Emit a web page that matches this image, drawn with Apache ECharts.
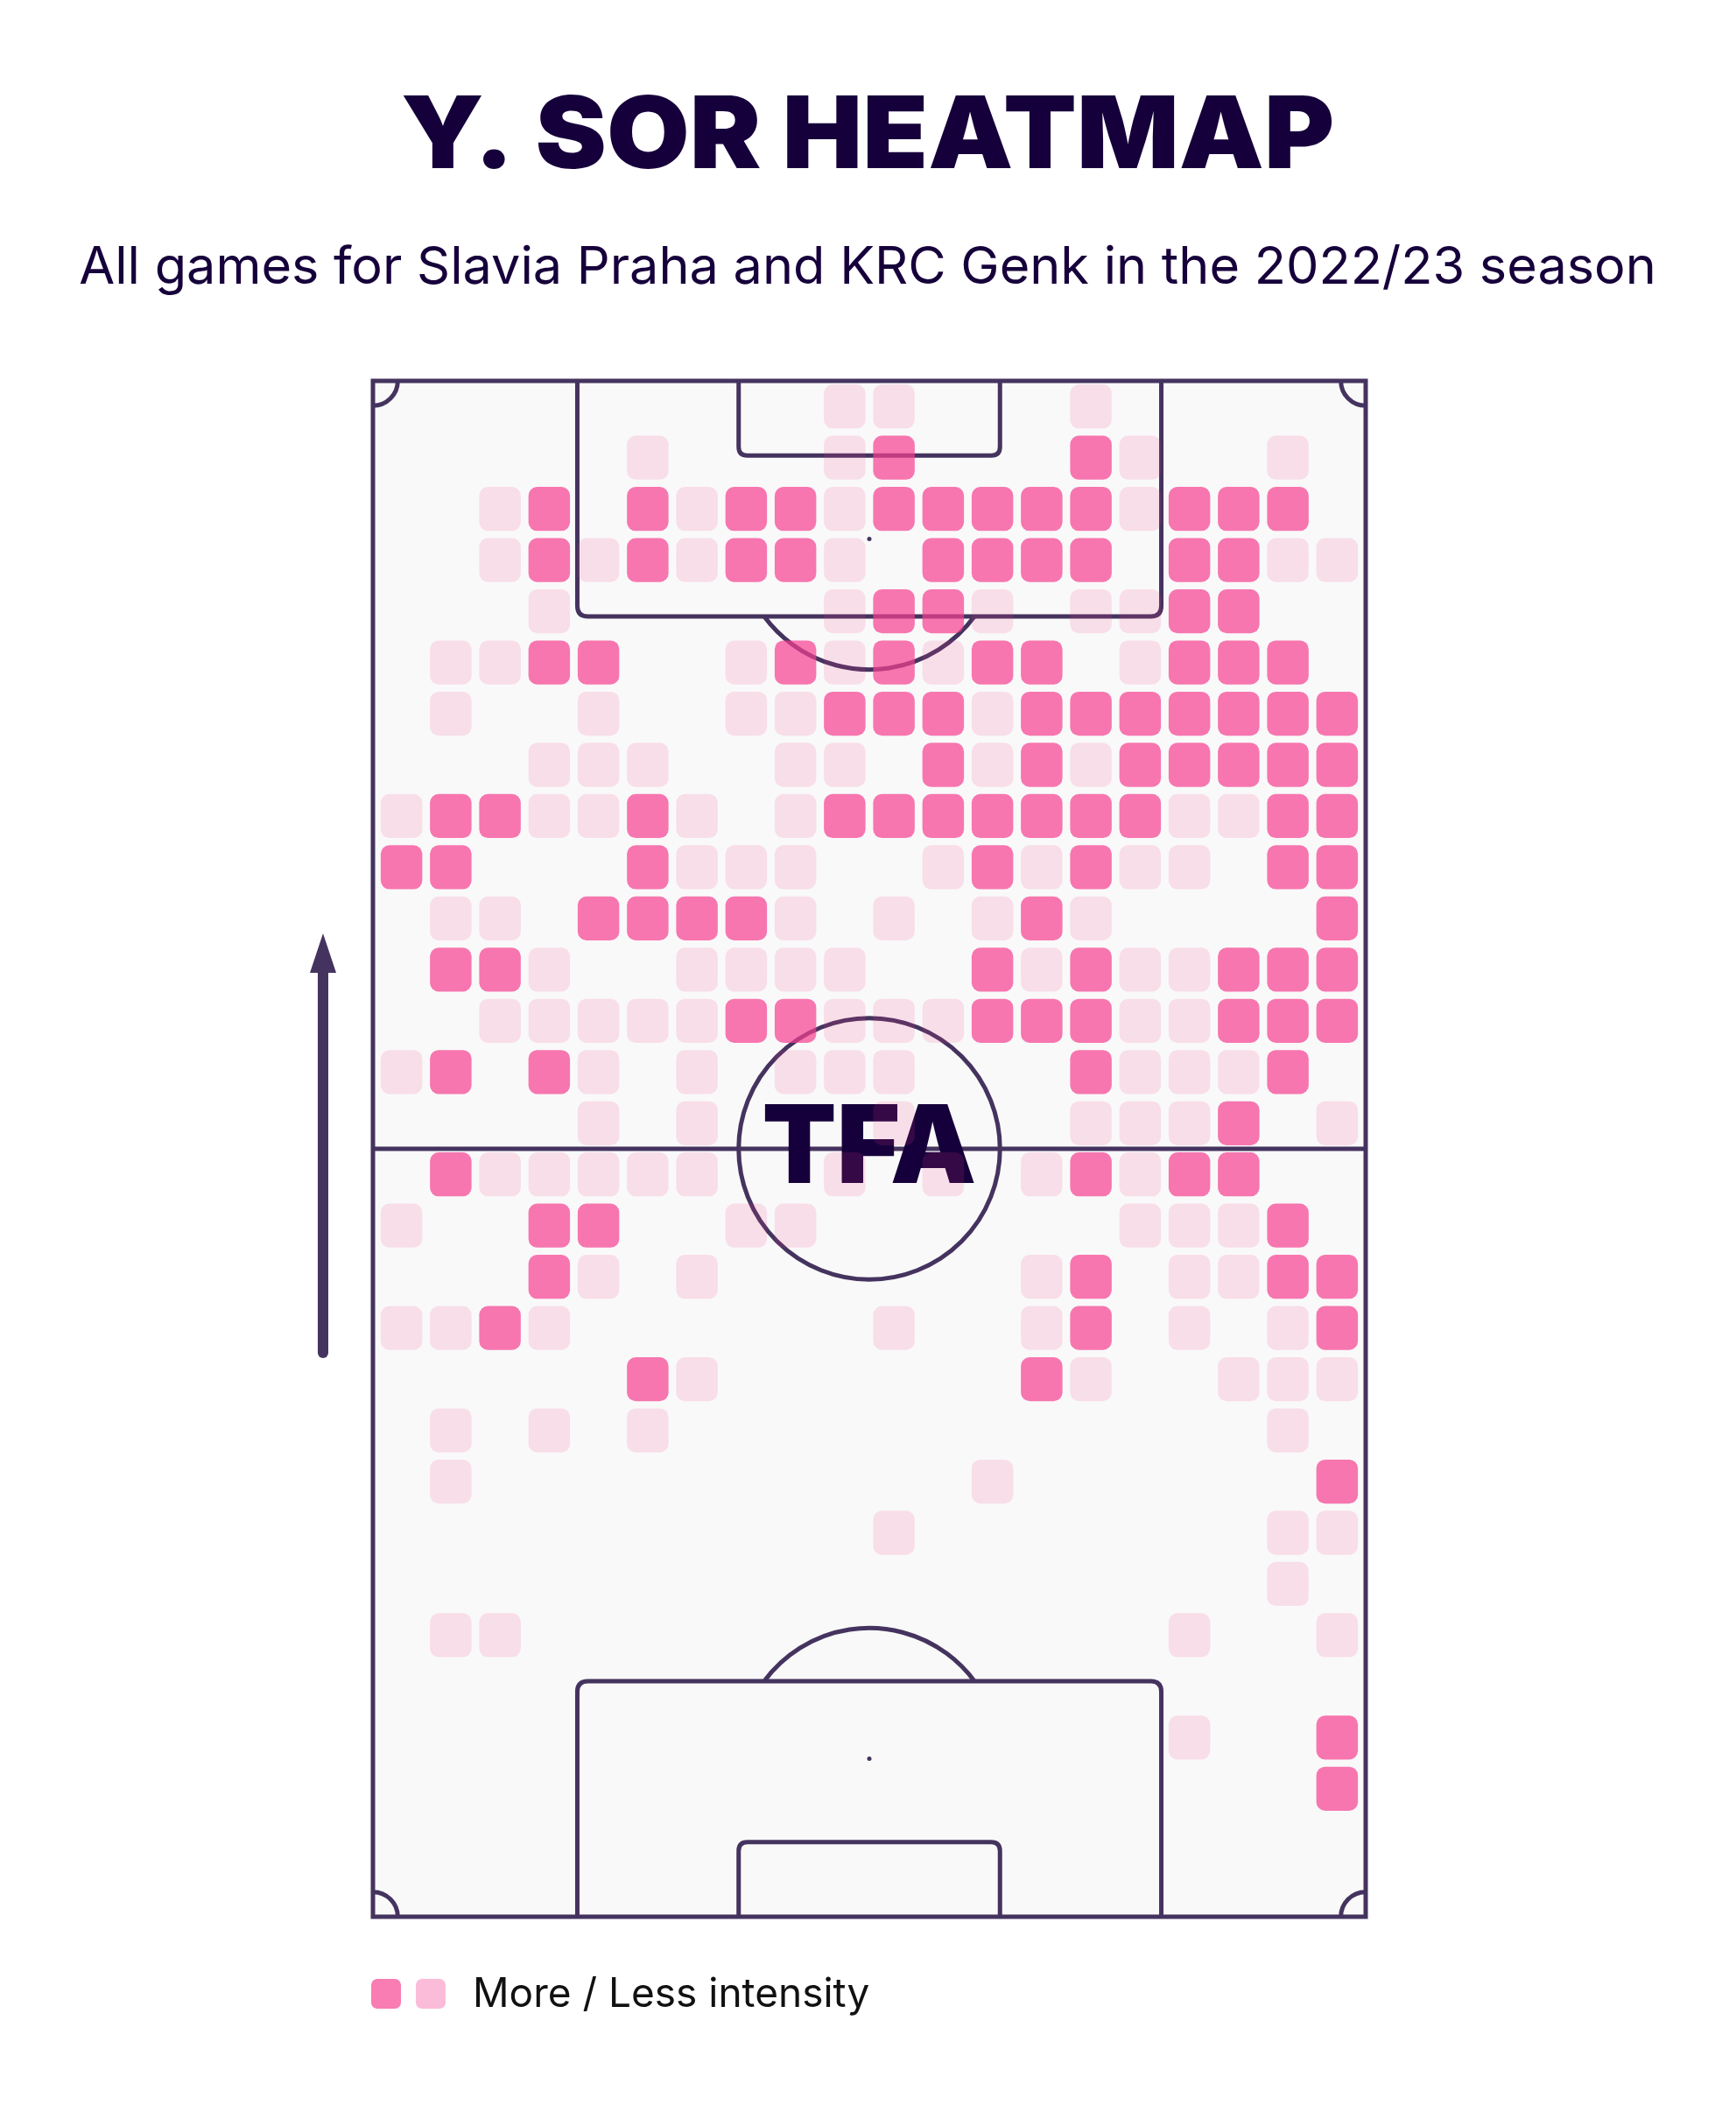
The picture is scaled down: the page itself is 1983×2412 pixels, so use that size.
<!DOCTYPE html>
<html><head><meta charset="utf-8">
<script src="https://cdn.jsdelivr.net/npm/echarts@6/dist/echarts.min.js"></script>
<style>html,body{margin:0;padding:0;background:#ffffff}#c{width:1983px;height:2412px}</style>
</head><body><div id="c"></div>
<script>
// ---- text ----
const titleText = 'Y. SOR HEATMAP';
const subtitleText = 'All games for Slavia Praha and KRC Genk in the 2022/23 season';
const legendText = 'More / Less intensity';
const logoText = 'TFA';

// ---- pitch (metres) ----
const pitchLength = 105;
const pitchWidth = 68;
const gridCols = 20;
const gridRows = 30;

// ---- intensity per zone: row 0 = attacking end (top of picture); 0 none, 1 less, 2 more ----
const intensity = [
  [0,0,0,0,0,0,0,0,0,1,1,0,0,0,1,0,0,0,0,0],
  [0,0,0,0,0,1,0,0,0,1,2,0,0,0,2,1,0,0,1,0],
  [0,0,1,2,0,2,1,2,2,1,2,2,2,2,2,1,2,2,2,0],
  [0,0,1,2,1,2,1,2,2,1,0,2,2,2,2,0,2,2,1,1],
  [0,0,0,1,0,0,0,0,0,1,2,2,1,0,1,1,2,2,0,0],
  [0,1,1,2,2,0,0,1,2,1,2,1,2,2,0,1,2,2,2,0],
  [0,1,0,0,1,0,0,1,1,2,2,2,1,2,2,2,2,2,2,2],
  [0,0,0,1,1,1,0,0,1,1,0,2,1,2,1,2,2,2,2,2],
  [1,2,2,1,1,2,1,0,1,2,2,2,2,2,2,2,1,1,2,2],
  [2,2,0,0,0,2,1,1,1,0,0,1,2,1,2,1,1,0,2,2],
  [0,1,1,0,2,2,2,2,1,0,1,0,1,2,1,0,0,0,0,2],
  [0,2,2,1,0,0,1,1,1,1,0,0,2,1,2,1,1,2,2,2],
  [0,0,1,1,1,1,1,2,2,1,1,1,2,2,2,1,1,2,2,2],
  [1,2,0,2,1,0,1,0,1,1,1,0,0,0,2,1,1,1,2,0],
  [0,0,0,0,1,0,1,0,0,0,1,0,0,0,1,1,1,2,0,1],
  [0,2,1,1,1,1,1,0,0,1,0,1,0,1,2,1,2,2,0,0],
  [1,0,0,2,2,0,0,1,1,0,0,0,0,0,0,1,1,1,2,0],
  [0,0,0,2,1,0,1,0,0,0,0,0,0,1,2,0,1,1,2,2],
  [1,1,2,1,0,0,0,0,0,0,1,0,0,1,2,0,1,0,1,2],
  [0,0,0,0,0,2,1,0,0,0,0,0,0,2,1,0,0,1,1,1],
  [0,1,0,1,0,1,0,0,0,0,0,0,0,0,0,0,0,0,1,0],
  [0,1,0,0,0,0,0,0,0,0,0,0,1,0,0,0,0,0,0,2],
  [0,0,0,0,0,0,0,0,0,0,1,0,0,0,0,0,0,0,1,1],
  [0,0,0,0,0,0,0,0,0,0,0,0,0,0,0,0,0,0,1,0],
  [0,1,1,0,0,0,0,0,0,0,0,0,0,0,0,0,1,0,0,1],
  [0,0,0,0,0,0,0,0,0,0,0,0,0,0,0,0,0,0,0,0],
  [0,0,0,0,0,0,0,0,0,0,0,0,0,0,0,0,1,0,0,2],
  [0,0,0,0,0,0,0,0,0,0,0,0,0,0,0,0,0,0,0,2],
  [0,0,0,0,0,0,0,0,0,0,0,0,0,0,0,0,0,0,0,0],
  [0,0,0,0,0,0,0,0,0,0,0,0,0,0,0,0,0,0,0,0]
];

// ---- styles ----
const inkColor = '#16003b';
const lineColor = '#45335f';
const pitchFill = '#f9f9f9';
const moreColor = 'rgba(246,63,144,0.70)';
const lessColor = 'rgba(246,63,144,0.14)';
const legendMore = '#f97cb3';
const legendLess = '#fbbcd9';
const FONT = 'Inter, "Noto Sans", sans-serif';

const cells = [];
intensity.forEach((row, r) => row.forEach((v, c) => { if (v) cells.push([c, r, v]); }));

function pitchRender(params, api) {
  const P = (x, y) => api.coord([x, y]);
  const tl = P(0, pitchLength), br = P(pitchWidth, 0);
  const s = (br[0] - tl[0]) / pitchWidth;
  const lw = 5;
  const st = { stroke: lineColor, lineWidth: lw, fill: null };
  const ch = [];
  ch.push({ type: 'rect', shape: { x: tl[0], y: tl[1], width: br[0] - tl[0], height: br[1] - tl[1] }, style: { fill: pitchFill } });
  const cx = pitchWidth / 2;
  function box(halfW, depth, atTop, r) {
    const x0 = P(cx - halfW, 0)[0], x1 = P(cx + halfW, 0)[0];
    const yg = P(0, atTop ? pitchLength : 0)[1];
    const yi = P(0, atTop ? pitchLength - depth : depth)[1];
    const d = yi > yg ? 1 : -1;
    const path = `M ${x0} ${yg} L ${x0} ${yi - d * r} Q ${x0} ${yi} ${x0 + r} ${yi} L ${x1 - r} ${yi} Q ${x1} ${yi} ${x1} ${yi - d * r} L ${x1} ${yg}`;
    ch.push({ type: 'path', shape: { pathData: path }, style: st });
  }
  box(20.0, 16.1, true, 12);
  box(20.0, 16.1, false, 12);
  box(8.95, 5.1, true, 10);
  box(8.95, 5.1, false, 10);
  // halfway line & centre circle
  const mid = P(cx, pitchLength / 2);
  ch.push({ type: 'line', shape: { x1: tl[0], y1: mid[1], x2: br[0], y2: mid[1] }, style: st });
  ch.push({ type: 'circle', shape: { cx: mid[0], cy: mid[1], r: 8.95 * s }, style: st });
  ch.push({ type: 'circle', shape: { cx: mid[0], cy: mid[1], r: 3 }, style: { fill: lineColor } });
  // penalty spots and arcs
  const spot = 10.8, arcR = 8.95;
  const a = Math.asin((16.1 - spot) / arcR);
  const ps1 = P(cx, pitchLength - spot), ps2 = P(cx, spot);
  ch.push({ type: 'circle', shape: { cx: ps1[0], cy: ps1[1], r: 2.5 }, style: { fill: lineColor } });
  ch.push({ type: 'circle', shape: { cx: ps2[0], cy: ps2[1], r: 2.5 }, style: { fill: lineColor } });
  ch.push({ type: 'arc', shape: { cx: ps1[0], cy: ps1[1], r: arcR * s, startAngle: a, endAngle: Math.PI - a, clockwise: true }, style: st });
  ch.push({ type: 'arc', shape: { cx: ps2[0], cy: ps2[1], r: arcR * s, startAngle: Math.PI + a, endAngle: 2 * Math.PI - a, clockwise: true }, style: st });
  // corner arcs
  const cr = 1.7 * s;
  ch.push({ type: 'arc', shape: { cx: tl[0], cy: tl[1], r: cr, startAngle: 0, endAngle: Math.PI / 2, clockwise: true }, style: st });
  ch.push({ type: 'arc', shape: { cx: br[0], cy: tl[1], r: cr, startAngle: Math.PI / 2, endAngle: Math.PI, clockwise: true }, style: st });
  ch.push({ type: 'arc', shape: { cx: tl[0], cy: br[1], r: cr, startAngle: 1.5 * Math.PI, endAngle: 2 * Math.PI, clockwise: true }, style: st });
  ch.push({ type: 'arc', shape: { cx: br[0], cy: br[1], r: cr, startAngle: Math.PI, endAngle: 1.5 * Math.PI, clockwise: true }, style: st });
  // outer boundary
  ch.push({ type: 'rect', shape: { x: tl[0], y: tl[1], width: br[0] - tl[0], height: br[1] - tl[1] }, style: st });
  // logo
  ch.push({ type: 'text', x: mid[0], y: mid[1] + 2, style: { text: logoText, font: '900 124px ' + FONT, fill: inkColor, align: 'center', verticalAlign: 'middle' } });
  return { type: 'group', children: ch };
}

// zones span the pitch width minus a small side margin
const sideMargin = 0.27;
function cellRender(params, api) {
  const c = api.value(0), r = api.value(1), lvl = api.value(2);
  const cw = (pitchWidth - 2 * sideMargin) / gridCols, rh = pitchLength / gridRows;
  const p0 = api.coord([sideMargin + c * cw, pitchLength - r * rh]);
  const p1 = api.coord([sideMargin + (c + 1) * cw, pitchLength - (r + 1) * rh]);
  const w = p1[0] - p0[0], h = p1[1] - p0[1];
  const ix = w * 0.078, iy = h * 0.07;
  return {
    type: 'rect',
    shape: { x: p0[0] + ix, y: p0[1] + iy, width: w - 2 * ix, height: h - 2 * iy, r: 10 },
    style: { fill: lvl === 2 ? moreColor : lessColor }
  };
}

const chart = echarts.init(document.getElementById('c'), null, { renderer: 'canvas', width: 1983, height: 2412 });
chart.setOption({
  backgroundColor: '#ffffff',
  animation: false,
  grid: { left: 426, top: 435, width: 1134, height: 1754 },
  xAxis: { type: 'value', min: 0, max: pitchWidth, show: false },
  yAxis: { type: 'value', min: 0, max: pitchLength, show: false },
  series: [
    { type: 'custom', z: 1, silent: true, renderItem: pitchRender, data: [[0, 0]], encode: { x: 0, y: 1 } },
    { type: 'custom', z: 3, silent: true, renderItem: cellRender, data: cells, encode: { x: 0, y: 1 } }
  ],
  graphic: [
    { type: 'text', x: 991, y: 158, scaleX: 1.072, style: { text: titleText, font: '900 114px ' + FONT, fill: inkColor, align: 'center', verticalAlign: 'middle' } },
    { type: 'text', x: 991, y: 306, style: { text: subtitleText, font: '400 59.4px ' + FONT, fill: inkColor, align: 'center', verticalAlign: 'middle' } },
    { type: 'line', shape: { x1: 369, y1: 1545, x2: 369, y2: 1100 }, style: { stroke: lineColor, lineWidth: 12, lineCap: 'round' } },
    { type: 'polygon', shape: { points: [[369, 1066], [354, 1111], [384, 1111]] }, style: { fill: lineColor } },
    { type: 'rect', shape: { x: 424, y: 2260, width: 34, height: 34, r: 7 }, style: { fill: legendMore } },
    { type: 'rect', shape: { x: 475, y: 2260, width: 34, height: 34, r: 7 }, style: { fill: legendLess } },
    { type: 'text', x: 540, y: 2278, style: { text: legendText, font: '400 46px ' + FONT, fill: '#111111', align: 'left', verticalAlign: 'middle' } }
  ]
});
</script></body></html>
